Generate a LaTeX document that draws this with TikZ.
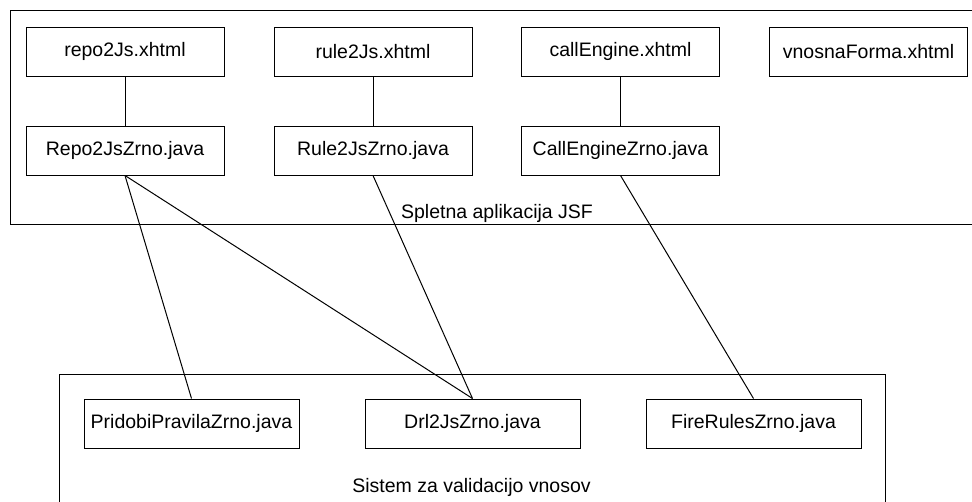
\documentclass[tikz,border=0pt]{standalone}
\usepackage{fontspec}
\setmainfont{Liberation Sans}
\begin{document}
\begin{tikzpicture}[x=1pt,y=-1pt,line width=1pt,
  topbox/.style={draw,minimum width=198pt,minimum height=49pt,inner sep=0pt,font=\fontsize{19.5}{23}\selectfont},
  botbox/.style={draw,minimum width=215pt,minimum height=49pt,inner sep=0pt,font=\fontsize{19.5}{23}\selectfont},
  lbl/.style={inner sep=0pt,font=\fontsize{19.5}{23}\selectfont},
  conn/.style={draw,line width=1pt}]
\useasboundingbox (0,0) rectangle (972,501);
\clip (0,0) rectangle (972,501);
% containers
\draw (990,10) -- (10,10) -- (10,224) -- (990,224);
\draw (59,520) -- (59,374) -- (885,374) -- (885,520);
\node[lbl] (webl) at (497,213) {Spletna aplikacija JSF};
\node[lbl] (sysl) at (471.5,487) {Sistem za validacijo vnosov};
% top row
\node[topbox] (repo) at (125,51.5) {repo2Js.xhtml};
\node[topbox] (rule) at (373,51.5) {rule2Js.xhtml};
\node[topbox] (call) at (620.5,51.5) {callEngine.xhtml};
\node[topbox] (vnos) at (868.5,51.5) {vnosnaForma.xhtml};
% second row
\node[topbox] (repoz) at (125,150.5) {Repo2JsZrno.java};
\node[topbox] (rulez) at (373,150.5) {Rule2JsZrno.java};
\node[topbox] (callz) at (620.5,150.5) {CallEngineZrno.java};
% bottom row
\node[botbox] (prid) at (191.5,423.5) {PridobiPravilaZrno.java};
\node[botbox] (drl) at (472.5,423.5) {Drl2JsZrno.java};
\node[botbox] (fire) at (753.5,423.5) {FireRulesZrno.java};
% connectors
\draw[conn] (repo.south) -- (repoz.north);
\draw[conn] (rule.south) -- (rulez.north);
\draw[conn] (call.south) -- (callz.north);
\draw[conn] (repoz.south) -- (prid.north);
\draw[conn] (repoz.south) -- (drl.north);
\draw[conn] (rulez.south) -- (drl.north);
\draw[conn] (callz.south) -- (fire.north);
\end{tikzpicture}
\end{document}
